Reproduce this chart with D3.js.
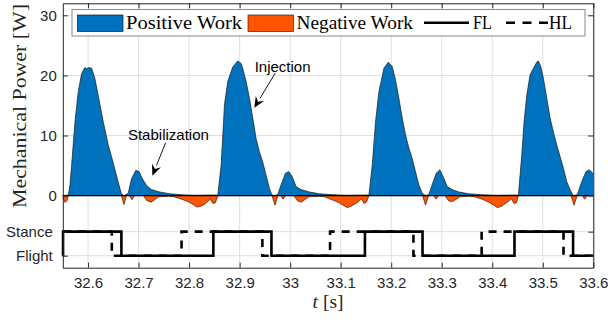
<!DOCTYPE html>
<html>
<head>
<meta charset="utf-8">
<script src="https://cdn.jsdelivr.net/npm/d3@7"></script>
<style>
  body { margin: 0; background: #fff; }
  svg { display: block; }
</style>
</head>
<body>
<svg id="chart" width="608" height="322"></svg>
<script>
// ---- Mechanical power, positive part (W) ----
const posT = [
  32.550, 32.561, 32.5642, 32.5675, 32.5741, 32.5806, 32.5872, 32.5938, 32.597, 32.601, 32.607,
  32.6135, 32.620, 32.630, 32.640, 32.650, 32.6595, 32.666, 32.6716, 32.6795, 32.686, 32.6946,
  32.701, 32.7077, 32.7156, 32.7254, 32.742, 32.762, 32.785, 32.810, 32.840, 32.8568,
  32.8634, 32.870, 32.8765, 32.8864, 32.8963, 32.9029, 32.906, 32.9128, 32.9194, 32.926, 32.9326,
  32.939, 32.9457, 32.9523, 32.959, 32.964, 32.969, 32.9755, 32.982, 32.9906, 32.997, 33.0038,
  33.0117, 33.0216, 33.038, 33.058, 33.085, 33.110, 33.140, 33.1559,
  33.1625, 33.169, 33.1757, 33.1856, 33.1941, 33.202, 33.2086, 33.2152, 33.2218, 33.2284, 33.235,
  33.2415, 33.248, 33.2547, 33.2613, 33.268, 33.2745, 33.281, 33.289, 33.2963, 33.3042, 33.3108,
  33.3207, 33.334, 33.3536, 33.380, 33.410, 33.440, 33.4518,
  33.4584, 33.463, 33.4683, 33.4749, 33.4815, 33.488, 33.4914, 33.496, 33.5013, 33.5079, 33.5145,
  33.521, 33.5277, 33.5343, 33.541, 33.5475, 33.554, 33.5594, 33.562, 33.5686, 33.577, 33.5857,
  33.5923, 33.597, 33.600
];
const posP = [
  0, 0.1, 1.8, 5.1, 12.3, 17.3, 20.3, 21.3, 21.1, 21.3, 21.2,
  19.5, 16.7, 12.3, 8.4, 5.4, 2.3, 0.3, 0, 0.4, 2.8, 4.2,
  4.0, 2.8, 1.7, 1.0, 0.6, 0.3, 0.15, 0.05, 0.1, 0.1,
  5.1, 15.1, 19.0, 21.4, 22.4, 22.0, 21.2, 19.0, 16.2, 12.9, 9.5,
  7.3, 5.6, 3.4, 1.2, 0.1, 0, 0.2, 1.8, 3.7, 4.0, 3.2,
  1.5, 1.0, 0.6, 0.3, 0.15, 0.05, 0.1, 0.1,
  5.1, 12.3, 17.3, 21.2, 22.2, 21.5, 19.2, 16.2, 12.9, 10.1, 7.9,
  6.2, 4.0, 1.8, 0.4, 0, 0.2, 1.8, 3.7, 4.3, 2.9, 1.5,
  1.0, 0.6, 0.3, 0.15, 0.05, 0.1, 0.1,
  6.75, 12.3, 16.7, 20.1, 21.2, 22.2, 22.4, 21.5, 19.5, 16.2, 12.9,
  10.6, 8.4, 6.5, 4.5, 2.3, 1.0, 0.1, 0, 0.2, 2.3, 4.0,
  4.3, 3.9, 3.6
];

// ---- Mechanical power, negative part (W) ----
const negT = [
  32.550, 32.554, 32.558, 32.561, 32.666, 32.671, 32.676, 32.682, 32.687, 32.692, 32.709,
  32.716, 32.725, 32.733, 32.740, 32.760, 32.770, 32.785, 32.798, 32.808, 32.815, 32.822,
  32.830, 32.837, 32.842, 32.847, 32.852, 32.857,
  32.964, 32.970, 32.976, 32.981, 32.986, 32.991, 33.007, 33.015, 33.022, 33.030, 33.037,
  33.058, 33.068, 33.083, 33.095, 33.105, 33.113, 33.120, 33.128, 33.136, 33.141, 33.146,
  33.151, 33.156,
  33.262, 33.268, 33.274, 33.284, 33.289, 33.294, 33.306, 33.314, 33.321, 33.329, 33.336,
  33.355, 33.365, 33.380, 33.393, 33.403, 33.410, 33.418, 33.426, 33.433, 33.438, 33.443,
  33.448, 33.452,
  33.556, 33.562, 33.568, 33.578, 33.583, 33.588, 33.600
];
const negP = [
  -0.4, -1.1, -0.9, 0, 0, -1.5, 0, 0, -0.7, 0, 0,
  -0.8, -1.1, -0.6, -0.2, -0.1, -0.2, -0.6, -1.0, -1.5, -1.9, -1.8,
  -1.5, -1.0, -0.6, -1.3, -1.2, 0,
  0, -1.6, 0, 0, -0.6, 0, 0, -0.9, -1.1, -0.6, -0.2,
  -0.1, -0.2, -0.7, -1.1, -1.6, -2.0, -1.8, -1.4, -1.0, -0.5, -1.3,
  -1.1, 0,
  0, -1.6, 0, 0, -0.6, 0, 0, -0.9, -1.0, -0.6, -0.2,
  -0.1, -0.2, -0.6, -1.1, -1.6, -2.0, -1.8, -1.3, -0.9, -0.5, -1.3,
  -1.2, 0,
  0, -1.6, 0, 0, -0.6, 0, 0
];

// ---- Foot contact states: fore leg (FL) and hind leg (HL) ----
const flT = [32.550, 32.5505, 32.666, 32.848, 32.963, 33.148, 33.262, 33.444, 33.560, 33.600];
const flState = ["Flight", "Stance", "Flight", "Stance", "Flight", "Stance", "Flight", "Stance", "Flight", "Flight"];
const hlT = [32.550, 32.647, 32.785, 32.945, 33.079, 33.244, 33.379, 33.541, 33.600];
const hlState = ["Stance", "Flight", "Stance", "Flight", "Stance", "Flight", "Stance", "Flight", "Flight"];

// ---- Axes ----
const xTicks = [32.6, 32.7, 32.8, 32.9, 33.0, 33.1, 33.2, 33.3, 33.4, 33.5, 33.6];
const xTickLabels = ["32.6", "32.7", "32.8", "32.9", "33", "33.1", "33.2", "33.3", "33.4", "33.5", "33.6"];
const yTicks = [0, 10, 20, 30];
const stateNames = ["Stance", "Flight"];
const stateLevel = { Stance: -6, Flight: -10 };

const legendLabels = ["Positive Work", "Negative Work", "FL", "HL"];

const colors = { pos: "#0072BD", neg: "#FF5500", ink: "#262626", grid: "#dfdfdf" };

const svg = d3.select("#chart");
const L = 62.8, R = 593.3, T = 3.3, B = 267.7;

const x = d3.scaleLinear().domain([32.55, 33.6]).range([L, R]);
const y = d3.scaleLinear().domain([-12, 32]).range([B, T]);

// grid
const grid = svg.append("g").attr("stroke", colors.grid).attr("stroke-width", 1);
grid.selectAll(".gx").data(xTicks).join("line")
  .attr("x1", d => x(d)).attr("x2", d => x(d)).attr("y1", T).attr("y2", B);
grid.selectAll(".gy").data(yTicks.concat(stateNames.map(s => stateLevel[s]))).join("line")
  .attr("x1", L).attr("x2", R).attr("y1", d => y(d)).attr("y2", d => y(d));

// power areas
const posData = posT.map((t, i) => [t, posP[i]]);
const negData = negT.map((t, i) => [t, negP[i]]);
const area = d3.area().x(d => x(d[0])).y0(y(0)).y1(d => y(d[1]));
const edge = d3.line().x(d => x(d[0])).y(d => y(d[1]));

svg.append("path").datum(posData).attr("d", area).attr("fill", colors.pos);
svg.append("path").datum(posData).attr("d", edge).attr("fill", "none")
  .attr("stroke", "#1a1a1a").attr("stroke-width", 0.7);
svg.append("path").datum(negData).attr("d", area).attr("fill", colors.neg);
svg.append("path").datum(negData).attr("d", edge).attr("fill", "none")
  .attr("stroke", "#3a2010").attr("stroke-width", 0.7);

// zero baseline
svg.append("line").attr("x1", L).attr("x2", R).attr("y1", y(0)).attr("y2", y(0))
  .attr("stroke", "#000").attr("stroke-width", 1.3);

// contact-state step lines
const step = d3.line().curve(d3.curveStepAfter).x(d => x(d[0])).y(d => y(stateLevel[d[1]]));
svg.append("path").datum(flT.map((t, i) => [t, flState[i]])).attr("d", step)
  .attr("fill", "none").attr("stroke", "#000").attr("stroke-width", 2.6);
svg.append("path").datum(hlT.map((t, i) => [t, hlState[i]])).attr("d", step)
  .attr("fill", "none").attr("stroke", "#000").attr("stroke-width", 2.6)
  .attr("stroke-dasharray", "8,7");

// axes
const font = "'Liberation Sans', Arial, Helvetica, sans-serif";
function styleAxis(g) {
  g.selectAll(".domain").attr("stroke", colors.ink).attr("stroke-width", 1);
  g.selectAll(".tick line").attr("stroke", colors.ink).attr("stroke-width", 1);
  g.selectAll(".tick text").attr("fill", colors.ink).style("font-family", font).style("font-size", "15px");
}
svg.append("g").attr("transform", `translate(0,${B})`)
  .call(d3.axisBottom(x).tickValues(xTicks).tickFormat((d, i) => xTickLabels[i])
    .tickSizeInner(-5).tickSizeOuter(0).tickPadding(10))
  .call(styleAxis).call(g => g.selectAll(".tick text").attr("dy", "0.71em"));
svg.append("g").attr("transform", `translate(0,${T})`)
  .call(d3.axisTop(x).tickValues(xTicks).tickFormat("").tickSizeInner(-5).tickSizeOuter(0))
  .call(styleAxis);
svg.append("g").attr("transform", `translate(${L},0)`)
  .call(d3.axisLeft(y).tickValues(yTicks).tickSizeInner(-5).tickSizeOuter(0).tickPadding(6))
  .call(styleAxis);
svg.append("g").attr("transform", `translate(${L},0)`)
  .call(d3.axisLeft(y).tickValues(stateNames.map(s => stateLevel[s]))
    .tickFormat(d => stateNames.find(s => stateLevel[s] === d))
    .tickSizeInner(-5).tickSizeOuter(0).tickPadding(10))
  .call(styleAxis).call(g => g.select(".domain").remove());
svg.append("g").attr("transform", `translate(${R},0)`)
  .call(d3.axisRight(y).tickValues(yTicks.concat(stateNames.map(s => stateLevel[s])))
    .tickFormat("").tickSizeInner(-5).tickSizeOuter(0))
  .call(styleAxis);

// axis titles
const serif = "'Liberation Serif', 'Times New Roman', serif";
svg.append("text")
  .attr("transform", `translate(26,106) rotate(-90)`)
  .attr("text-anchor", "middle").attr("fill", colors.ink)
  .style("font-family", serif).style("font-size", "19.5px")
  .attr("textLength", 204).attr("lengthAdjust", "spacingAndGlyphs")
  .text("Mechanical Power [W]");
const xl = svg.append("text").attr("x", (L + R) / 2).attr("y", 308)
  .attr("text-anchor", "middle").attr("fill", colors.ink)
  .style("font-family", serif).style("font-size", "19.5px");
xl.append("tspan").style("font-style", "italic").text("t");
xl.append("tspan").text(" [s]");

// annotations
const notes = [
  { text: "Injection", tx: 32.985, ty: 20.6, from: [32.9705, 20.4], to: [32.929, 14.6] },
  { text: "Stabilization", tx: 32.759, ty: 9.3, from: [32.7535, 8.8], to: [32.7273, 3.3] }
];
notes.forEach(n => {
  svg.append("text").attr("x", x(n.tx)).attr("y", y(n.ty)).attr("text-anchor", "middle")
    .attr("fill", "#000").style("font-family", font).style("font-size", "15px").text(n.text);
  const x1 = x(n.from[0]), y1 = y(n.from[1]), x2 = x(n.to[0]), y2 = y(n.to[1]);
  const ang = Math.atan2(y2 - y1, x2 - x1), len = 11, hw = 4.8;
  const bx = x2 - len * Math.cos(ang), by = y2 - len * Math.sin(ang);
  svg.append("line").attr("x1", x1).attr("y1", y1).attr("x2", bx).attr("y2", by)
    .attr("stroke", "#000").attr("stroke-width", 0.9);
  const px = -Math.sin(ang), py = Math.cos(ang);
  svg.append("path")
    .attr("d", `M${x2},${y2}L${bx + hw * px},${by + hw * py}L${bx + 0.35 * len * Math.cos(ang)},${by + 0.35 * len * Math.sin(ang)}L${bx - hw * px},${by - hw * py}Z`)
    .attr("fill", "#000");
});

// legend
const lg = svg.append("g");
lg.append("rect").attr("x", 72).attr("y", 9.5).attr("width", 513).attr("height", 26.5)
  .attr("fill", "#fff").attr("stroke", "#8a8a8a").attr("stroke-width", 1);
const ly = 22.8;
lg.append("rect").attr("x", 77.5).attr("y", 15).attr("width", 45.5).attr("height", 16.5)
  .attr("fill", colors.pos).attr("stroke", "#1a1a1a").attr("stroke-width", 0.7);
lg.append("rect").attr("x", 248).attr("y", 15).attr("width", 45.5).attr("height", 16.5)
  .attr("fill", colors.neg).attr("stroke", "#3a2010").attr("stroke-width", 0.7);
lg.append("line").attr("x1", 424).attr("x2", 469).attr("y1", ly).attr("y2", ly)
  .attr("stroke", "#000").attr("stroke-width", 2.6);
lg.append("line").attr("x1", 506).attr("x2", 548).attr("y1", ly).attr("y2", ly)
  .attr("stroke", "#000").attr("stroke-width", 2.6).attr("stroke-dasharray", "9,7.5");
const legendX = [126, 296.5, 473, 549];
const legendW = [116, 116.5, 19, 23];
legendLabels.forEach((s, i) => {
  lg.append("text").attr("x", legendX[i]).attr("y", 28.8).attr("fill", "#000")
    .style("font-family", serif).style("font-size", "18.5px")
    .attr("textLength", legendW[i]).attr("lengthAdjust", "spacingAndGlyphs").text(s);
});
</script>
</body>
</html>
